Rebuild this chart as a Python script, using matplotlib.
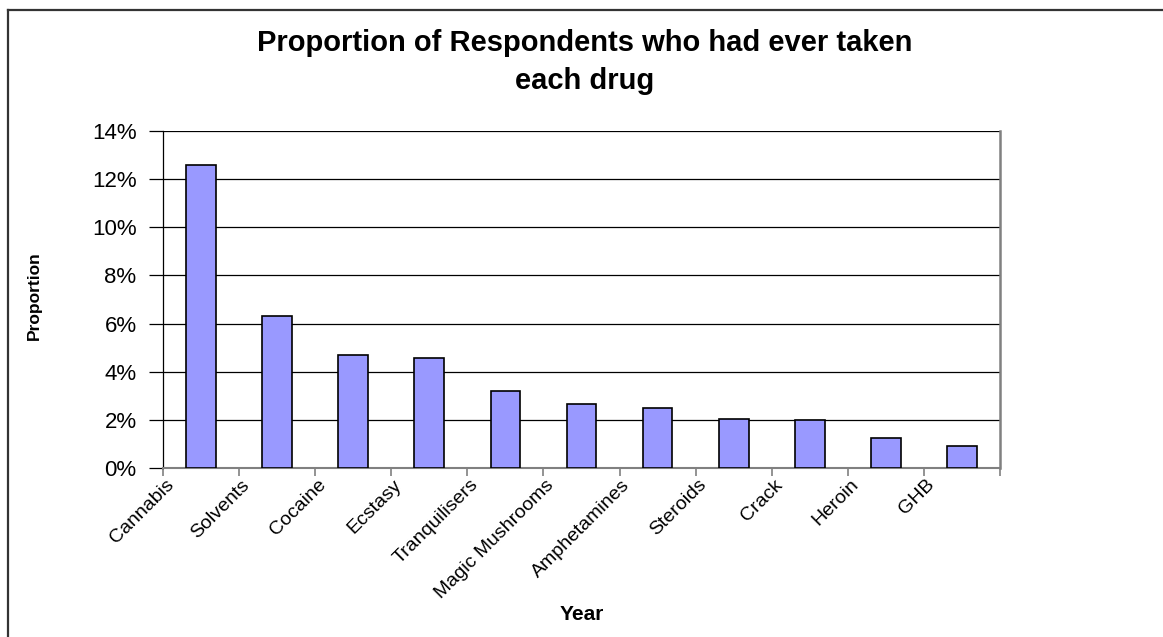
import numpy as np
import matplotlib
matplotlib.use("Agg")
from matplotlib import pyplot as plt
from matplotlib.lines import Line2D
from matplotlib.transforms import ScaledTranslation

drugs = ["Cannabis", "Solvents", "Cocaine", "Ecstasy", "Tranquilisers",
         "Magic Mushrooms", "Amphetamines", "Steroids", "Crack", "Heroin", "GHB"]
proportion = [12.6, 6.3, 4.7, 4.55, 3.2, 2.65, 2.5, 2.05, 2.0, 1.25, 0.92]
y_ticks = [0, 2, 4, 6, 8, 10, 12, 14]

plt.rcParams['font.family'] = ['Liberation Sans', 'DejaVu Sans']

W, H = 1163, 637
fig = plt.figure(figsize=(W / 100, H / 100), dpi=100)
ax = fig.add_axes([163 / W, 1 - 468 / H, (1000 - 163) / W, (468 - 131) / H])

x = np.arange(len(drugs))
ax.bar(x, proportion, width=0.39, color='#9999ff', edgecolor='black', linewidth=1.2, zorder=3)

ax.set_xlim(-0.5, len(drugs) - 0.5)
ax.set_ylim(0, 14)
ax.set_yticks(y_ticks)
ax.set_yticklabels([f"{v}%" for v in y_ticks], fontsize=16)
ax.yaxis.grid(True, color='black', linewidth=0.9, zorder=0)

# ticks between categories, labels offset to the left like the original
ax.set_xticks(np.arange(-0.5, len(drugs) + 0.5, 1))
ax.set_xticklabels([])
ax.set_xticks(x, minor=True)
ax.set_xticklabels(drugs, minor=True, rotation=45, ha='right', va='top',
                   rotation_mode='anchor', fontsize=14)
ax.tick_params(axis='x', which='major', length=6, color='#808080', width=1.2)
ax.tick_params(axis='x', which='minor', length=0, pad=6)
ax.tick_params(axis='y', length=10, color='black', width=0.9, pad=9)
offset = ScaledTranslation(-0.36, 0, fig.dpi_scale_trans)
for lab in ax.get_xticklabels(minor=True):
    lab.set_transform(lab.get_transform() + offset)

ax.spines['top'].set_visible(False)
ax.spines['left'].set_color('black')
ax.spines['left'].set_linewidth(0.9)
ax.spines['bottom'].set_color('#808080')
ax.spines['bottom'].set_linewidth(1.5)
ax.spines['right'].set_color('#808080')
ax.spines['right'].set_linewidth(1.8)

fig.text(585 / W, 1 - 29 / H, "Proportion of Respondents who had ever taken\neach drug",
         ha='center', va='top', fontsize=21, fontweight='bold', linespacing=1.45)
fig.text(34 / W, 1 - 296 / H, "Proportion", rotation=90, ha='center', va='center',
         fontsize=12.5, fontweight='bold')
fig.text(582 / W, 1 - 615 / H, "Year", ha='center', va='center', fontsize=15, fontweight='bold')

# chart area border (left and top edges visible)
fig.add_artist(Line2D([8 / W, 8 / W], [0, 1 - 10 / H], transform=fig.transFigure,
                      color='#333333', linewidth=1.6))
fig.add_artist(Line2D([8 / W, 1], [1 - 10 / H, 1 - 10 / H], transform=fig.transFigure,
                      color='#333333', linewidth=1.6))

fig.savefig("out.png", dpi=100)
